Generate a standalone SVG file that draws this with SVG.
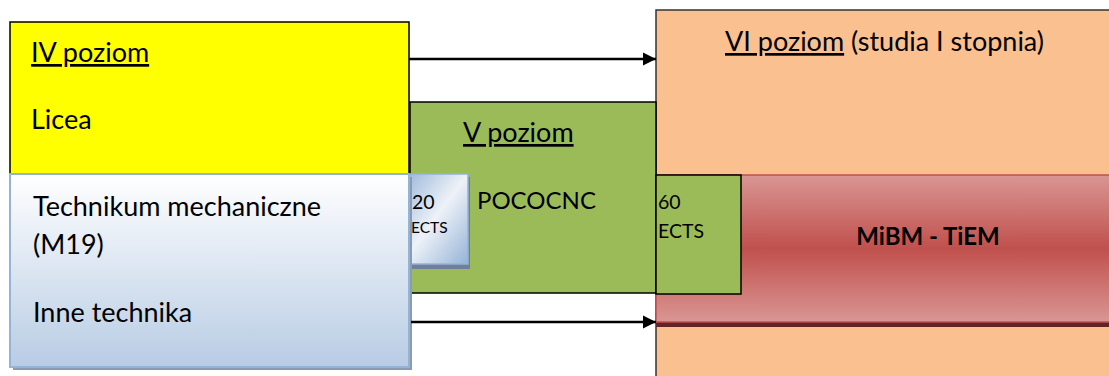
<svg xmlns="http://www.w3.org/2000/svg" width="1109" height="376" viewBox="0 0 1109 376">
<style>
text{font-family:Lato,"Liberation Sans",sans-serif;fill:#000}
.t{font-size:27px}
.p{font-size:24px}
.s{font-size:15.5px}
.m{font-size:19.5px}
.u{text-decoration:underline}
.b{font-weight:bold;font-size:24px}
.edge{stroke:#000;stroke-width:2.5;fill:none}
</style>
<defs>
<linearGradient id="blue" x1="0" y1="0" x2="0" y2="1">
<stop offset="0" stop-color="#ffffff"/>
<stop offset="1" stop-color="#b8cce4"/>
</linearGradient>
<linearGradient id="blue2" x1="0" y1="0" x2="1" y2="1">
<stop offset="0" stop-color="#95b3d7"/>
<stop offset="0.5" stop-color="#eef2f8"/>
<stop offset="1" stop-color="#95b3d7"/>
</linearGradient>
<linearGradient id="red" x1="0" y1="0" x2="0" y2="1">
<stop offset="0" stop-color="#d99694"/>
<stop offset="0.5" stop-color="#c0504d"/>
<stop offset="1" stop-color="#d99694"/>
</linearGradient>
<marker id="arr" viewBox="0 0 10 10" refX="10" refY="5" markerWidth="16" markerHeight="13" markerUnits="userSpaceOnUse" orient="auto" overflow="visible">
<path d="M0,0 L10,5 L0,10 z" fill="#000"/>
</marker>
</defs>

<g id="n-vi">
<rect x="656" y="10" width="470" height="380" fill="#fac090" stroke="#333" stroke-width="1.5"/>
<text x="725" y="51" class="t"><tspan class="u">VI poziom</tspan> (studia I stopnia)</text>
</g>

<g id="n-mibm">
<rect x="656" y="322" width="460" height="5" fill="#632523"/>
<rect x="656" y="175" width="460" height="147" fill="url(#red)" stroke="#c0504d" stroke-width="1.5"/>
<text x="928" y="245" class="b" text-anchor="middle">MiBM - TiEM</text>
</g>

<g id="n-iv">
<rect x="10" y="22" width="399" height="160" fill="#ffff00" stroke="#000" stroke-width="1.5"/>
<text x="31" y="62" class="t u">IV poziom</text>
<text x="31" y="129" class="t">Licea</text>
</g>

<g id="n-v">
<rect x="410" y="102" width="246" height="191" fill="#9bbb59" stroke="#000" stroke-width="1.5"/>
<text x="463" y="142" class="t u">V poziom</text>
<text x="477" y="209" class="p">POCOCNC</text>
</g>

<g id="n-60">
<rect x="656" y="175" width="85" height="119" fill="#9bbb59" stroke="#000" stroke-width="1.5"/>
<text x="658" y="209" class="m">60</text>
<text x="658" y="238" class="m">ECTS</text>
</g>

<g id="n-20">
<rect x="404" y="177" width="66" height="92" fill="#6f819a"/>
<rect x="401" y="174" width="67" height="90" fill="url(#blue2)" stroke="#95b3d7" stroke-width="1.5"/>
<text x="412" y="209" class="m">20</text>
<text x="411" y="233" class="s">ECTS</text>
</g>

<g id="n-tech">
<rect x="13" y="177" width="399" height="193" fill="#8a9cb3"/>
<rect x="10" y="174" width="399" height="193" fill="url(#blue)" stroke="#95b3d7" stroke-width="2"/>
<text x="33" y="216" class="t">Technikum mechaniczne</text>
<text x="33" y="254" class="t">(M19)</text>
<text x="33" y="322" class="t">Inne technika</text>
</g>

<g id="connectors">
<path class="edge" d="M409,59 L656,59" marker-end="url(#arr)"/>
<path class="edge" d="M411,322 L656,322" marker-end="url(#arr)"/>
</g>
</svg>
